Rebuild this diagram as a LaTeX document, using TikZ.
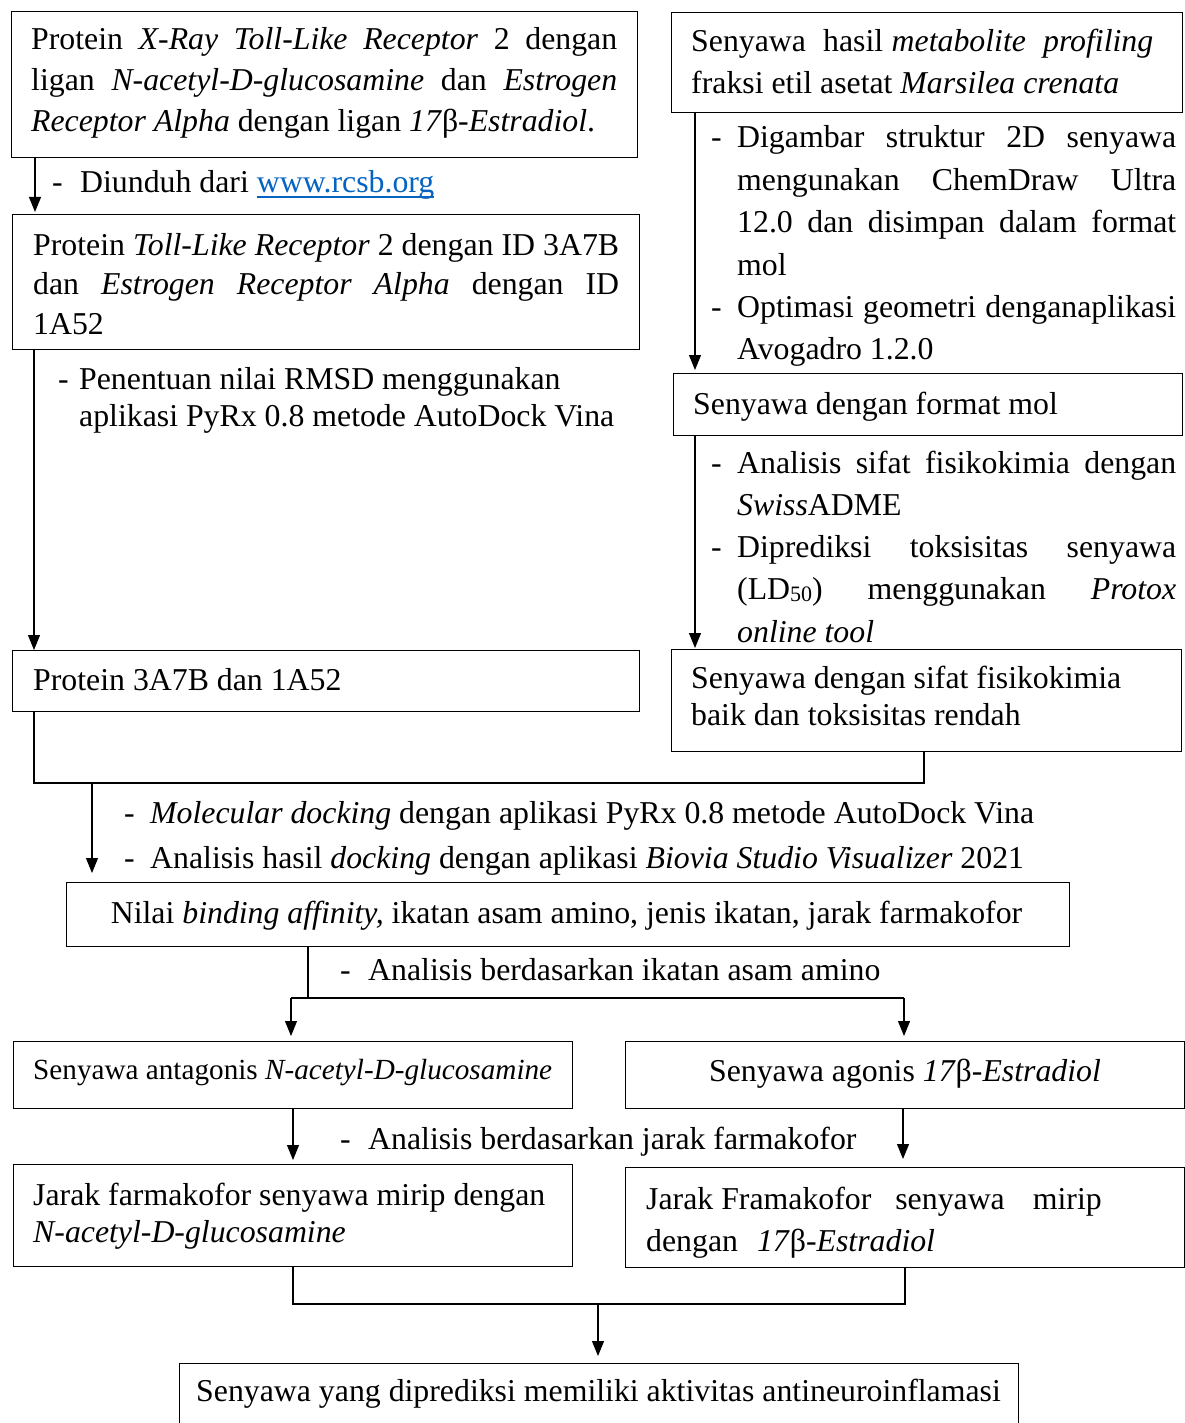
\documentclass[tikz,border=0pt]{standalone}
\usepackage{fontspec}
\setmainfont{Liberation Serif}
\usetikzlibrary{arrows.meta}
\definecolor{linkblue}{RGB}{5,99,193}
\tikzset{
  boxnode/.style={draw, line width=1.1pt, inner sep=0pt, anchor=north west},
  txt/.style={inner sep=0pt, anchor=base west, font=\fontsize{31.8}{38}\selectfont},
  ctxt/.style={inner sep=0pt, anchor=base, font=\fontsize{31.8}{38}\selectfont},
  conn/.style={line width=1.1pt},
  arr/.style={line width=1.1pt, -{Triangle[length=15pt,width=12pt]}},
}
\newcommand{\fsz}[1]{\fontsize{31.8}{#1}\selectfont\tolerance=10000\parindent=0pt}
\newcommand{\dash}[1]{\makebox[#1][l]{-}}
\newcommand{\myul}[1]{\setbox0\hbox{#1}\rlap{\raisebox{-5pt}{\rule{\wd0}{1.7pt}}}\box0}
\newcommand{\subfifty}{\raisebox{-2pt}{\fontsize{22}{22}\selectfont 50}}
\begin{document}
\begin{tikzpicture}[x=1pt,y=-1pt]
\useasboundingbox (0,0) rectangle (1184,1423);
% boxes
\node[boxnode, minimum width=626pt, minimum height=146pt] (A) at (11,11) {};
\node[boxnode, minimum width=627pt, minimum height=135pt] (B) at (12,214) {};
\node[boxnode, minimum width=627pt, minimum height=61pt] (C) at (12,650) {};
\node[boxnode, minimum width=511pt, minimum height=100pt] (D) at (671,12) {};
\node[boxnode, minimum width=509pt, minimum height=62pt] (E) at (673,373) {};
\node[boxnode, minimum width=510pt, minimum height=102pt] (F) at (671,649) {};
\node[boxnode, minimum width=1003pt, minimum height=64pt] (G) at (66,882) {};
\node[boxnode, minimum width=559pt, minimum height=67pt] (H) at (13,1041) {};
\node[boxnode, minimum width=558.5pt, minimum height=67pt] (I) at (625,1041) {};
\node[boxnode, minimum width=559pt, minimum height=102pt] (J) at (13,1164) {};
\node[boxnode, minimum width=558.5pt, minimum height=100pt] (K) at (625,1167) {};
\node[boxnode, minimum width=839pt, minimum height=63pt] (L) at (179,1363) {};
% box texts
\node[txt] (tA) at (31,50) {\parbox[t]{586pt}{\fsz{41}Protein \textit{X-Ray Toll-Like Receptor} 2 dengan\linebreak ligan \textit{N-acetyl-D-glucosamine} dan \textit{Estrogen}\linebreak \textit{Receptor Alpha} dengan ligan \textit{17}β\textit{-Estradiol}.}};
\node[txt] (tB) at (33,255) {\parbox[t]{586pt}{\fsz{39.5}Protein \textit{Toll-Like Receptor} 2 dengan ID 3A7B\linebreak dan \textit{Estrogen Receptor Alpha} dengan ID\linebreak 1A52}};
\node[txt] (tC) at (33,690) {Protein 3A7B dan 1A52};
\node[txt] (tD) at (691,52) {\parbox[t]{462pt}{\fsz{42}Senyawa\ \ hasil \textit{metabolite}\ \ \textit{profiling}\linebreak fraksi etil asetat \textit{Marsilea crenata}}};
\node[txt] (tE) at (693,414) {Senyawa dengan format mol};
\node[txt] (tF) at (691,688) {\parbox[t]{480pt}{\fsz{37}\raggedright Senyawa dengan sifat fisikokimia\\baik dan toksisitas rendah}};
\node[ctxt] (tG) at (566.5,923) {Nilai \textit{binding affinity,} ikatan asam amino, jenis ikatan, jarak farmakofor};
\node[txt, font=\fontsize{29.2}{34}\selectfont] (tH) at (33,1079) {Senyawa antagonis \textit{N-acetyl-D-glucosamine}};
\node[ctxt] (tI) at (905,1081) {Senyawa agonis \textit{17}β\textit{-Estradiol}};
\node[txt] (tJ) at (33,1205) {\parbox[t]{530pt}{\fsz{37}\raggedright Jarak farmakofor senyawa mirip dengan\\\textit{N-acetyl-D-glucosamine}}};
\node[txt] (tK) at (646,1209) {\parbox[t]{530pt}{\fsz{42}\raggedright Jarak Framakofor\hspace{24pt}senyawa\hspace{28pt}mirip\\dengan\hspace{19pt}\textit{17}β\textit{-Estradiol}}};
\node[ctxt] (tL) at (598.5,1401) {Senyawa yang diprediksi memiliki aktivitas antineuroinflamasi};
% labels
\node[txt] (l1) at (52,193) {\dash{28pt}Diunduh dari \textcolor{linkblue}{\myul{www.rcsb.org}}};
\node[txt] (l2) at (58,389) {\parbox[t]{580pt}{\fsz{37}\raggedright\hangindent=21pt\hangafter=1 \dash{21pt}Penentuan nilai RMSD menggunakan\newline aplikasi PyRx 0.8 metode AutoDock Vina}};
\node[txt] (l3) at (711,148) {\parbox[t]{465pt}{\fsz{42.4}\hangindent=26pt\hangafter=1 \dash{26pt}Digambar struktur 2D senyawa\linebreak mengunakan ChemDraw Ultra\linebreak 12.0 dan disimpan dalam format\linebreak mol\par
\hangindent=26pt\hangafter=1 \dash{26pt}Optimasi geometri denganaplikasi\linebreak Avogadro 1.2.0}};
\node[txt] (l4) at (711,473) {\parbox[t]{465pt}{\fsz{42.3}\hangindent=26pt\hangafter=1 \dash{26pt}Analisis sifat fisikokimia dengan\linebreak \textit{Swiss}ADME\par
\hangindent=26pt\hangafter=1 \dash{26pt}Diprediksi toksisitas senyawa\linebreak (LD\subfifty) menggunakan \textit{Protox}\linebreak \textit{online tool}}};
\node[txt] (l5) at (124,823) {\parbox[t]{1040pt}{\fsz{45}\raggedright \dash{26pt}\textit{Molecular docking} dengan aplikasi PyRx 0.8 metode AutoDock Vina\\\dash{26pt}Analisis hasil \textit{docking} dengan aplikasi \textit{Biovia Studio Visualizer} 2021}};
\node[txt] (l6) at (340,980) {\dash{28pt}Analisis berdasarkan ikatan asam amino};
\node[txt] (l7) at (340,1149) {\dash{28pt}Analisis berdasarkan jarak farmakofor};
% connectors
\draw[arr, shorten >=2pt] ([xshift=24pt]A.south west) -- ([xshift=24pt]A.south west |- B.north);
\draw[arr] ([xshift=22pt]B.south west) -- ([xshift=22pt]B.south west |- C.north);
\draw[arr, shorten >=3pt] ([xshift=24pt]D.south west) -- ([xshift=24pt]D.south west |- E.north);
\draw[arr, shorten >=1pt] ([xshift=22pt]E.south west) -- ([xshift=22pt]E.south west |- F.north);
\coordinate (jL) at (34,783);
\coordinate (jR) at (924,783);
\coordinate (jA) at (92,783);
\draw[conn] (C.south -| jL) -- (jL) -- (jR) -- (F.south -| jR);
\draw[arr, shorten >=9pt] (jA) -- (jA |- G.north);
\coordinate (s0) at (308,998);
\coordinate (sL) at (291,998);
\coordinate (sR) at (904,998);
\draw[conn] (G.south -| s0) -- (s0);
\draw[conn] (sL) -- (sR);
\draw[arr, shorten >=5pt] (sL) -- (sL |- H.north);
\draw[arr, shorten >=5pt] (sR) -- (sR |- I.north);
\draw[arr, shorten >=4pt] ([xshift=280pt]H.south west) -- ([xshift=280pt]H.south west |- J.north);
\draw[arr, shorten >=8pt] ([xshift=278pt]I.south west) -- ([xshift=278pt]I.south west |- K.north);
\coordinate (kL) at (293,1304);
\coordinate (kR) at (905,1304);
\coordinate (kM) at (598,1304);
\draw[conn] (J.south -| kL) -- (kL) -- (kR) -- (K.south -| kR);
\draw[arr, shorten >=7pt] (kM) -- (kM |- L.north);
\end{tikzpicture}
\end{document}
